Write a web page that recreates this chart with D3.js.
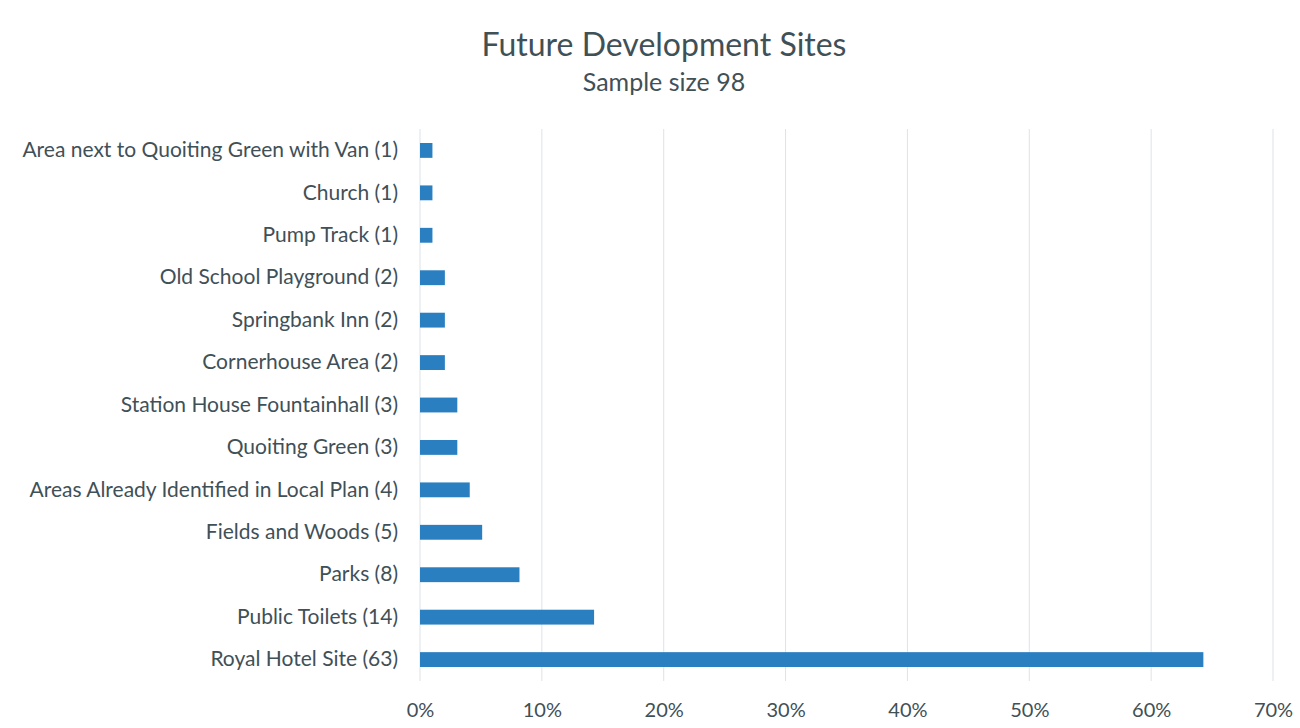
<!DOCTYPE html>
<html>
<head>
<meta charset="utf-8">
<script src="https://cdn.jsdelivr.net/npm/d3@7"></script>
<style>
  body { margin: 0; background: #fff; }
  svg text { font-family: Lato, "Open Sans", sans-serif; fill: #3f5057; }
</style>
</head>
<body>
<svg id="chart"></svg>
<script>
// Chart data
const categories = [
    "Area next to Quoiting Green with Van (1)",
    "Church (1)",
    "Pump Track (1)",
    "Old School Playground (2)",
    "Springbank Inn (2)",
    "Cornerhouse Area (2)",
    "Station House Fountainhall (3)",
    "Quoiting Green (3)",
    "Areas Already Identified in Local Plan (4)",
    "Fields and Woods (5)",
    "Parks (8)",
    "Public Toilets (14)",
    "Royal Hotel Site (63)"
];
const counts = [1, 1, 1, 2, 2, 2, 3, 3, 4, 5, 8, 14, 63];
const sampleSize = 98;
const xTicks = [0, 0.1, 0.2, 0.3, 0.4, 0.5, 0.6, 0.7];

const W = 1300, H = 728;
const margin = { top: 129, right: 27, bottom: 47, left: 420 };
const height = H - margin.top - margin.bottom;

const svg = d3.select("#chart")
    .attr("width", W)
    .attr("height", H);

// Titles
svg.append("text")
    .attr("x", 664).attr("y", 56)
    .attr("text-anchor", "middle")
    .style("font-size", "32px")
    .text("Future Development Sites");

svg.append("text")
    .attr("x", 664).attr("y", 91)
    .attr("text-anchor", "middle")
    .style("font-size", "25px")
    .text("Sample size " + sampleSize);

const g = svg.append("g")
    .attr("transform", `translate(${margin.left},${margin.top})`);

// Scales
const x = d3.scaleLinear().domain([0, 0.7]).range([0, 853]);
const y = d3.scaleBand().domain(categories).range([0, height]).paddingInner(0.65).paddingOuter(0.33);

// Gridlines
g.selectAll(".grid")
    .data(xTicks)
    .enter().append("line")
    .attr("class", "grid")
    .attr("x1", d => x(d)).attr("x2", d => x(d))
    .attr("y1", 0).attr("y2", height)
    .attr("stroke", "#dde3e8")
    .attr("stroke-width", 1);

// Bars
g.selectAll(".bar")
    .data(categories)
    .enter().append("rect")
    .attr("class", "bar")
    .attr("x", x(0))
    .attr("y", d => y(d))
    .attr("width", (d, i) => x(counts[i] / sampleSize))
    .attr("height", y.bandwidth())
    .attr("fill", "#2a7fc1");

// Y axis labels
const yAxis = g.append("g")
    .call(d3.axisLeft(y).tickSize(0).tickPadding(22));
yAxis.select(".domain").remove();
yAxis.selectAll("text")
    .style("font-size", "21px")
    .attr("fill", "#3f5057");

// X axis labels
const xAxis = g.append("g")
    .attr("transform", `translate(0,${height})`)
    .call(d3.axisBottom(x).tickValues(xTicks).tickFormat(d3.format(".0%")).tickSize(0).tickPadding(22));
xAxis.select(".domain").remove();
xAxis.selectAll("text")
    .style("font-size", "20px")
    .attr("fill", "#3f5057");
</script>
</body>
</html>
